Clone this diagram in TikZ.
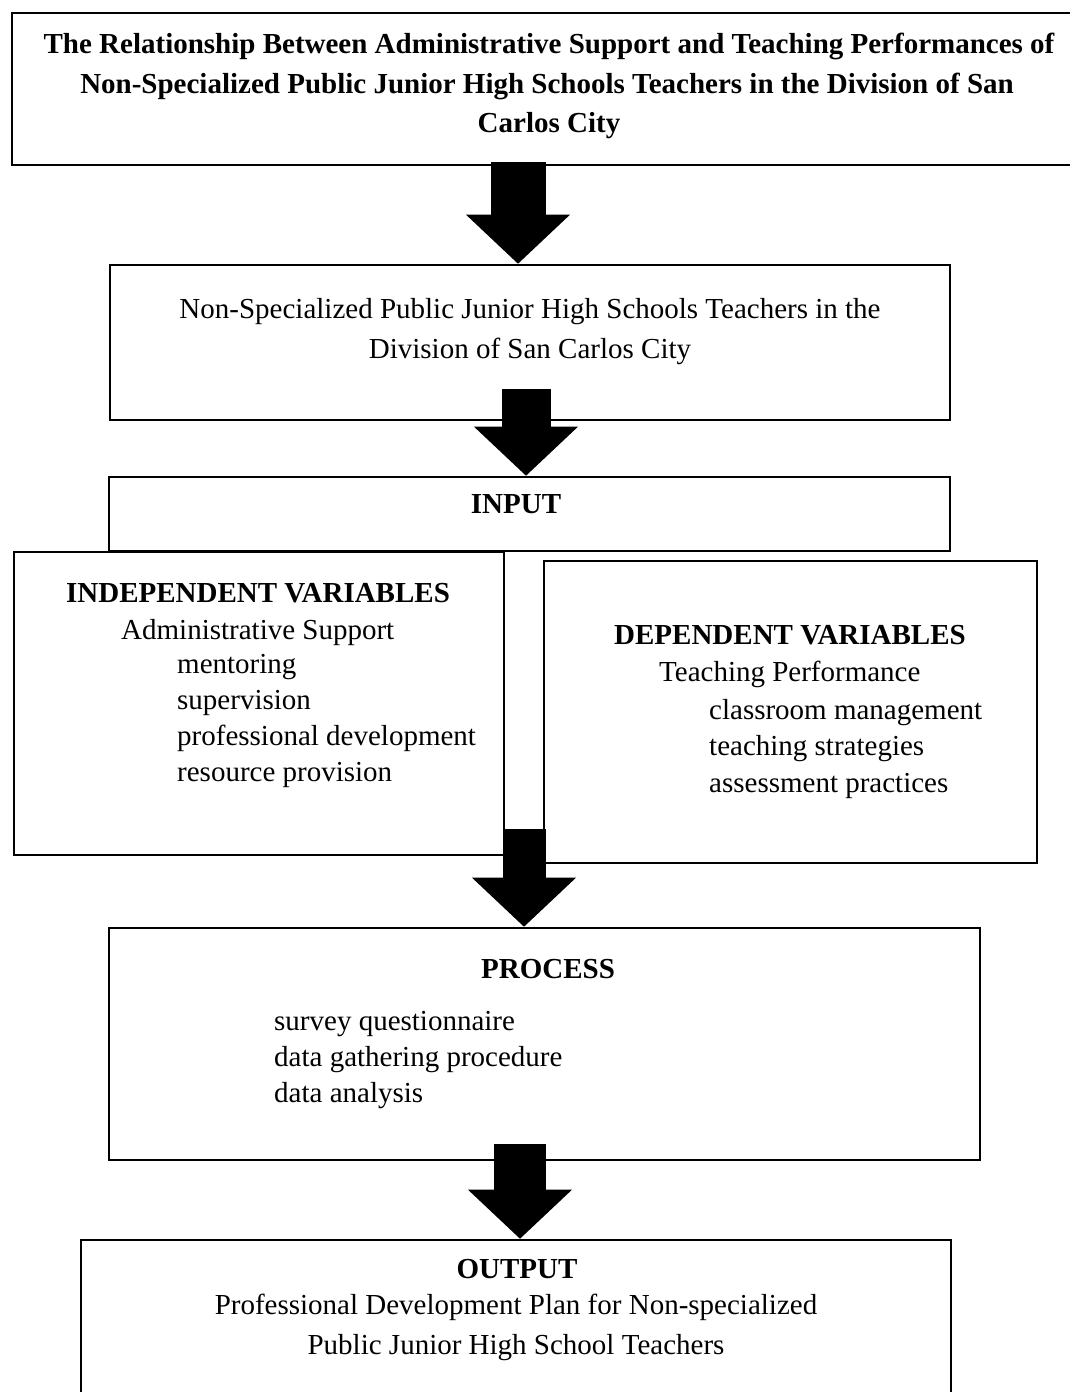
\documentclass[tikz,border=0pt]{standalone}
\usepackage{fontspec}
\setmainfont{Liberation Serif}
\usetikzlibrary{arrows.meta}

\tikzset{
  box/.style={draw, line width=2.6pt, inner sep=0pt},
  txt/.style={inner sep=0pt, font=\fontsize{29}{36}\selectfont},
  hd/.style={inner sep=0pt, font=\fontsize{29}{36}\selectfont\bfseries},
  fat/.style={line width=#1, -{Triangle[length=49pt, width=104pt, line width'=0pt]}},
}

\begin{document}
\begin{tikzpicture}[x=1pt, y=-1pt]
  \clip (0,0) rectangle (1070,1392);
  % boxes
  \node[box, minimum width=1068, minimum height=152] (title) at (546,89) {};
  \node[box, minimum width=840, minimum height=155] (pop) at (530,342.5) {};
  \node[box, minimum width=841, minimum height=74] (input) at (529.5,514) {};
  \node[box, minimum width=490, minimum height=303] (indep) at (259,703.5) {};
  \node[box, minimum width=493, minimum height=302] (dep) at (790.5,712) {};
  \node[box, minimum width=871, minimum height=232] (proc) at (544.5,1044) {};
  \node[box, minimum width=870, minimum height=180] (out) at (516,1330) {};
  % texts
  \node[hd, anchor=base] (t1) at (549,53) {The Relationship Between Administrative Support and Teaching Performances of};
  \node[hd, anchor=base] (t2) at (547,93) {Non-Specialized Public Junior High Schools Teachers in the Division of San};
  \node[hd, anchor=base] (t3) at (549,132) {Carlos City};
  \node[txt, anchor=base] (p1) at (530,318) {Non-Specialized Public Junior High Schools Teachers in the};
  \node[txt, anchor=base] (p2) at (530,358) {Division of San Carlos City};
  \node[hd, anchor=base] (inlbl) at (516,513) {INPUT};
  \node[hd, anchor=base] (ivlbl) at (258,602) {INDEPENDENT VARIABLES};
  \node[txt, anchor=base west] (iv) at (121,639) {Administrative Support};
  \foreach \t [count=\i] in {mentoring, supervision, professional development, resource provision}
    \node[txt, anchor=base west] (iv\i) at (177,637+36*\i) {\t};
  \node[hd, anchor=base] (dvlbl) at (790,644) {DEPENDENT VARIABLES};
  \node[txt, anchor=base west] (dv) at (659,681) {Teaching Performance};
  \foreach \t [count=\i] in {classroom management, teaching strategies, assessment practices}
    \node[txt, anchor=base west] (dv\i) at (709,682.5+36.5*\i) {\t};
  \node[hd, anchor=base] (prlbl) at (548,978) {PROCESS};
  \foreach \t [count=\i] in {survey questionnaire, data gathering procedure, data analysis}
    \node[txt, anchor=base west] (pr\i) at (274,994+36*\i) {\t};
  \node[hd, anchor=base] (outlbl) at (517,1278) {OUTPUT};
  \node[txt, anchor=base] (o1) at (516,1314) {Professional Development Plan for Non-specialized};
  \node[txt, anchor=base] (o2) at (516,1354) {Public Junior High School Teachers};
  % arrows
  \coordinate (a1) at (518,162);
  \coordinate (a2) at (526,389);
  \coordinate (a3) at (524,829);
  \coordinate (a4) at (520,1144);
  \draw[fat=55pt] (a1) -- (a1 |- pop.north);
  \draw[fat=49pt] (a2) -- (a2 |- input.north);
  \draw[fat=43pt] (a3) -- (a3 |- proc.north);
  \draw[fat=52pt] (a4) -- (a4 |- out.north);
\end{tikzpicture}
\end{document}
